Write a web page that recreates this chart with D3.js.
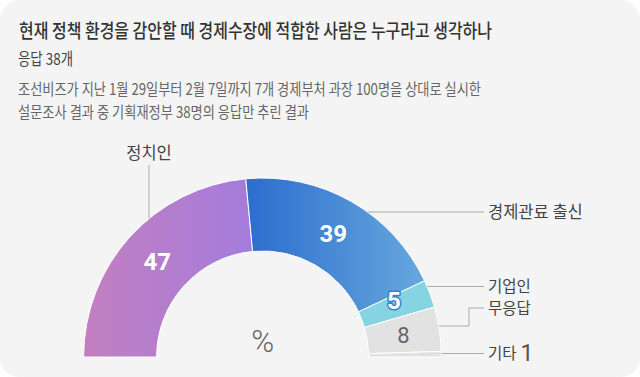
<!DOCTYPE html>
<html>
<head>
<meta charset="utf-8">
<script src="https://cdn.jsdelivr.net/npm/d3@7"></script>
<style>
  html, body { margin: 0; padding: 0; background: #fff; }
  #chart { width: 640px; height: 377px; }
  text { font-family: "Noto Sans CJK KR", "Noto Sans", sans-serif; }
</style>
</head>
<body>
<div id="chart"></div>
<script>
    // survey answers (%)
    const categories = ['정치인', '경제관료 출신', '기업인', '무응답', '기타'];
    const values = [47, 39, 5, 8, 1];

    const title = '현재 정책 환경을 감안할 때 경제수장에 적합한 사람은 누구라고 생각하나';
    const subTitle = '응답 38개';
    const noteLines = [
        '조선비즈가 지난 1월 29일부터 2월 7일까지 7개 경제부처 과장 100명을 상대로 실시한',
        '설문조사 결과 중 기획재정부 38명의 응답만 추린 결과'
    ];

    const width = 640;
    const height = 377;
    const cx = 262.6, cy = 357;
    const outerR = 179, innerR = 106;

    const svg = d3.select('#chart').append('svg')
        .attr('width', width)
        .attr('height', height)
        .attr('viewBox', `0 0 ${width} ${height}`);

    svg.append('rect')
        .attr('width', width)
        .attr('height', height)
        .attr('rx', 20)
        .attr('fill', '#f4f4f4');

    // gradients for the two big slices
    const defs = svg.append('defs');
    const grads = [
        { id: 'g0', from: '#c27fbf', to: '#a47cdc' },
        { id: 'g1', from: '#2c6dce', to: '#66a8dd' }
    ];
    for (let g of grads) {
        const lg = defs.append('linearGradient').attr('id', g.id)
            .attr('x1', 0).attr('x2', 1).attr('y1', 0).attr('y2', 0);
        lg.append('stop').attr('offset', 0).attr('stop-color', g.from);
        lg.append('stop').attr('offset', 1).attr('stop-color', g.to);
    }
    const fills = ['url(#g0)', 'url(#g1)', '#86d4e2', '#e2e2e2', '#e2e2e2'];

    // header texts
    svg.append('text')
        .attr('x', 19).attr('y', 38)
        .attr('font-size', 19).attr('font-weight', 500)
        .attr('fill', '#333')
        .attr('textLength', 473).attr('lengthAdjust', 'spacingAndGlyphs')
        .text(title);

    svg.append('text')
        .attr('x', 18).attr('y', 65)
        .attr('font-size', 16.5).attr('fill', '#444')
        .attr('textLength', 55).attr('lengthAdjust', 'spacingAndGlyphs')
        .text(subTitle);

    const noteW = [463, 291];
    svg.selectAll('.note')
        .data(noteLines)
        .join('text')
        .attr('class', 'note')
        .attr('x', 18)
        .attr('y', (d, i) => 95 + i * 23)
        .attr('font-size', 16).attr('fill', '#666')
        .attr('textLength', (d, i) => noteW[i]).attr('lengthAdjust', 'spacingAndGlyphs')
        .text(d => d);

    // half donut
    const pie = d3.pie()
        .sort(null)
        .startAngle(-Math.PI / 2)
        .endAngle(Math.PI / 2)
        .value(d => d);

    const arc = d3.arc().innerRadius(innerR).outerRadius(outerR);
    const arcs = pie(values);

    const g = svg.append('g').attr('transform', `translate(${cx},${cy})`);

    g.selectAll('path')
        .data(arcs)
        .join('path')
        .attr('d', arc)
        .attr('fill', (d, i) => fills[i])
        .attr('stroke', '#fff')
        .attr('stroke-width', 1);

    // values inside the slices
    const inner = g.selectAll('.val')
        .data(arcs.slice(0, 4))
        .join('text')
        .attr('class', 'val')
        .attr('transform', d => `translate(${arc.centroid(d)})`)
        .attr('text-anchor', 'middle')
        .attr('dy', '0.36em')
        .style('font-family', 'Roboto, sans-serif')
        .attr('font-weight', (d, i) => i === 3 ? 400 : 700)
        .attr('font-size', (d, i) => i === 3 ? 22 : 24)
        .attr('fill', (d, i) => i === 3 ? '#666' : '#fff')
        .text(d => d.data);

    // the small '5' gets a blue outline
    inner.filter((d, i) => i === 2)
        .attr('dx', -2).attr('dy', '0.1em')
        .attr('stroke', '#3a7cd6').attr('stroke-width', 3)
        .attr('paint-order', 'stroke')
        .attr('stroke-linejoin', 'round');

    svg.append('text')
        .attr('x', cx).attr('y', 352)
        .attr('text-anchor', 'middle')
        .style('font-family', 'Roboto, sans-serif')
        .attr('font-weight', 300)
        .attr('font-size', 31).attr('fill', '#666')
        .text('%');

    // leader lines and outside labels
    const lineColor = '#aaa';
    const labelX = 488;
    const edgeX = y => cx + Math.sqrt(outerR * outerR - (cy - y) * (cy - y));

    // 정치인: straight up from the arc
    const topX = 149;
    svg.append('line')
        .attr('x1', topX).attr('x2', topX)
        .attr('y1', 165).attr('y2', cy - Math.sqrt(outerR * outerR - (cx - topX) * (cx - topX)))
        .attr('stroke', lineColor);
    svg.append('text')
        .attr('x', topX).attr('y', 159)
        .attr('text-anchor', 'middle')
        .attr('font-size', 16.5).attr('fill', '#444')
        .text(categories[0]);

    // right hand labels: start y on the arc, label y
    const rightLabels = [
        { i: 1, y0: 212, y1: 212 },
        { i: 2, y0: 286.5, y1: 286.5 },
        { i: 3, y0: 326, y1: 308 },
        { i: 4, y0: 353.5, y1: 353.5 }
    ];

    for (let r of rightLabels) {
        const x0 = edgeX(r.y0);
        let pts;
        if (r.y0 === r.y1) {
            pts = [[x0, r.y0], [labelX - 4, r.y1]];
        } else {
            pts = [[x0, r.y0], [469, r.y0], [469, r.y1], [labelX - 4, r.y1]];
        }
        svg.append('path')
            .attr('d', d3.line()(pts))
            .attr('fill', 'none')
            .attr('stroke', lineColor);

        const t = svg.append('text')
            .attr('x', labelX).attr('y', r.y1)
            .attr('dy', '0.36em')
            .attr('font-size', r.i === 1 ? 16.5 : 15.5).attr('fill', '#444')
            .text(categories[r.i]);

        if (r.i === 4) {
            t.append('tspan')
                .attr('dx', 4)
                .attr('dy', '0.1em')
                .style('font-family', 'Roboto, sans-serif')
                .attr('font-size', 23).attr('fill', '#555')
                .text(values[r.i]);
        }
    }
</script>
</body>
</html>
